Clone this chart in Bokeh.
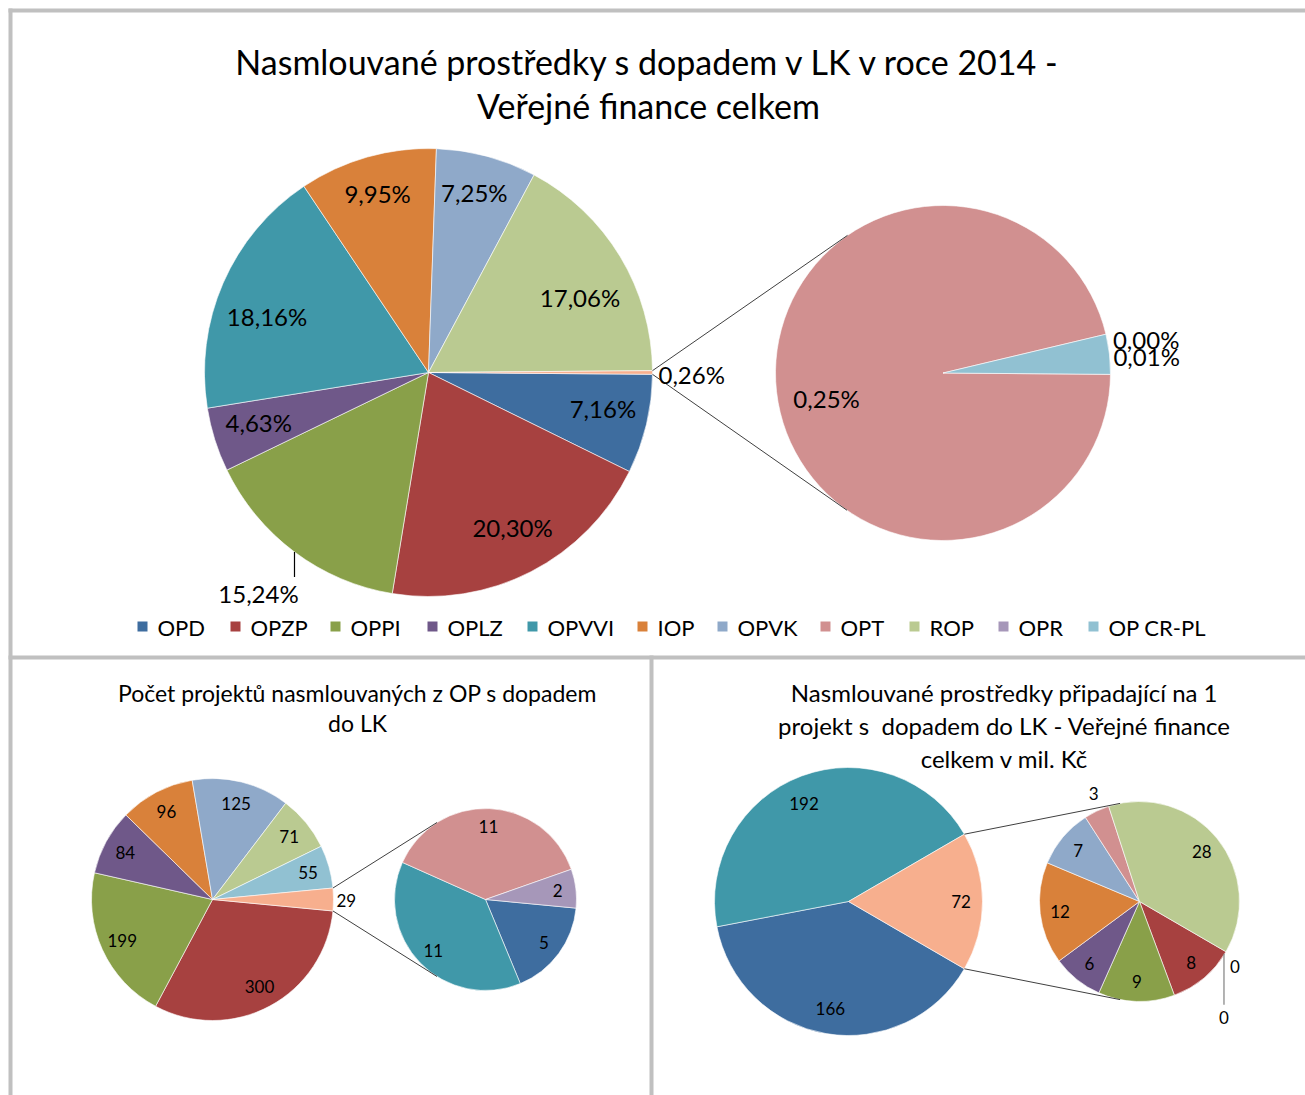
import math
from bokeh.plotting import figure
from bokeh.models import Range1d
from bokeh.embed import file_html
from bokeh.resources import INLINE
from bokeh.core.properties import value

# ---------------- data ----------------
programs = ["OPD", "OPZP", "OPPI", "OPLZ", "OPVVI", "IOP", "OPVK", "OPT", "ROP", "OPR", "OP CR-PL"]
program_colors = ["#3E6D9F", "#A74140", "#89A049", "#6F5889", "#4098A9", "#D9813A",
                  "#8FA9C9", "#D19090", "#BACA91", "#A697B9", "#91C1D2"]
other_color = "#F7AF8E"

# Chart 1: contracted funds share (%)
share_primary_names = ["OPD", "OPZP", "OPPI", "OPLZ", "OPVVI", "IOP", "OPVK", "ROP"]
share_primary_values = [7.16, 20.30, 15.24, 4.63, 18.16, 9.95, 7.25, 17.06]
share_other_value = 0.26
share_secondary_names = ["OPT", "OPR", "OP CR-PL"]
share_secondary_values = [0.25, 0.00, 0.01]

# Chart 2: number of projects
count_primary_names = ["OPZP", "OPPI", "OPLZ", "IOP", "OPVK", "ROP", "OP CR-PL"]
count_primary_values = [300, 199, 84, 96, 125, 71, 55]
count_other_value = 29
count_secondary_names = ["OPD", "OPVVI", "OPT", "OPR"]
count_secondary_values = [5, 11, 11, 2]

# Chart 3: funds per project (mil. Kč)
per_primary_names = ["OPD", "OPVVI"]
per_primary_values = [166, 192]
per_other_value = 72
per_secondary_names = ["OPZP", "OPPI", "OPLZ", "IOP", "OPVK", "OPT", "ROP", "OPR", "OP CR-PL"]
per_secondary_values = [8, 9, 6, 12, 7, 3, 28, 0, 0]

title_top = ["Nasmlouvané prostředky s dopadem v LK v roce 2014 -", "Veřejné finance celkem"]
title_left = ["Počet projektů nasmlouvaných z OP s dopadem", "do LK"]
title_right = ["Nasmlouvané prostředky připadající na 1",
               "projekt s \u00a0dopadem do LK - Veřejné finance", "celkem v mil. Kč"]

# ---------------- layout ----------------
FONT = "Lato"
W, H = 1305, 1095
COLOR = dict(zip(programs, program_colors))
COLOR["other"] = other_color

p = figure(width=W, height=H, x_range=Range1d(0, W), y_range=Range1d(-H, 0),
           output_backend="svg", toolbar_location=None, min_border=0,
           x_axis_type=None, y_axis_type=None)
p.grid.visible = False
p.outline_line_color = None
p.background_fill_color = "white"
p.border_fill_color = "white"


def txt(xs, ys, texts, size, align="center", color="#000000"):
    p.text(x=list(xs), y=[-y for y in ys], text=list(texts), text_font=value(FONT),
           text_font_size=f"{size}px", text_align=align, text_baseline="middle",
           text_color=color)


# frame borders
border = "#C0C0C0"
p.quad(left=[8, 8, 8, 649], right=[W, 12, W, 653],
       top=[-8, -8, -655, -655], bottom=[-12, -H, -659, -H],
       fill_color=border, line_color=None)


def pct(v):
    return f"{v:.2f}".replace(".", ",") + "%"


def num(v):
    return f"{v:.0f}"


def pie_of_pie(names, vals, other, snames, svals, c1, r1, c2, r2, fmt, fsize, frac1, frac2, special):
    total = sum(vals) + other
    h = other / total * math.pi
    wx, wy, wr, ws, we, wc = [], [], [], [], [], []
    lx, ly, lt, la = [], [], [], []
    leaders = []

    def slices(center, r, seq, tot, frac, tag):
        cx, cy = center
        a = -h
        for n, v in seq:
            ang = v / tot * 2 * math.pi
            s, e = a - ang, a
            mid = (s + e) / 2
            if ang > 0:
                wx.append(cx); wy.append(-cy); wr.append(r)
                ws.append(s); we.append(e); wc.append(COLOR[n])
            sp = special.get((tag, n), {})
            if "dx" in sp:
                ex = cx + r * math.cos(mid)
                ey = cy - r * math.sin(mid)
                lx.append(ex + sp["dx"]); ly.append(ey + sp["dy"])
                la.append(sp.get("align", "center"))
                if "leader" in sp:
                    (a0, b0), (a1, b1) = sp["leader"]
                    leaders.append(((ex + a0, ey + b0), (ex + a1, ey + b1), sp.get("lcolor", "#000000")))
            else:
                f = sp.get("frac", frac)
                m = mid + math.radians(sp.get("dang", 0))
                lx.append(cx + f * r * math.cos(m))
                ly.append(cy - f * r * math.sin(m))
                la.append("center")
            lt.append(fmt(v))
            a -= ang

    slices(c1, r1, list(zip(names, vals)) + [("other", other)], total, frac1, "p")
    slices(c2, r2, list(zip(snames, svals)), sum(svals), frac2, "s")

    p.wedge(x=wx, y=wy, radius=wr, start_angle=ws, end_angle=we,
            fill_color=wc, line_color="white", line_width=0.6)

    # connector lines: tangents from the "other" slice edges to the secondary pie
    cx1, cy1 = c1
    cx2, cy2 = c2
    for sign in (1, -1):
        px = cx1 + r1 * math.cos(sign * h)
        py = cy1 - r1 * math.sin(sign * h)
        dx, dy = px - cx2, -(py - cy2)
        d = math.hypot(dx, dy)
        beta = math.atan2(dy, dx)
        phi = math.acos(r2 / d)
        t = beta - phi if sign == 1 else beta + phi
        tx = cx2 + r2 * math.cos(t)
        ty = cy2 - r2 * math.sin(t)
        p.line([px, tx], [-py, -ty], line_color="#404040", line_width=1)

    for (x0, y0), (x1, y1), col in leaders:
        p.line([x0, x1], [-y0, -y1], line_color=col, line_width=1.2)

    for al in ("center", "left"):
        idx = [i for i in range(len(lt)) if la[i] == al]
        if idx:
            txt([lx[i] for i in idx], [ly[i] for i in idx], [lt[i] for i in idx], fsize, align=al)


# ---- chart 1 ----
txt([648, 648], [61, 105], title_top, 34)
pie_of_pie(share_primary_names, share_primary_values, share_other_value,
           share_secondary_names, share_secondary_values,
           (428, 372), 224, (942.5, 372.5), 167.5, pct, 24, 0.79, 0.72,
           {("p", "other"): dict(dx=6, dy=2, align="left"),
            ("p", "OPPI"): dict(dx=-36, dy=42, leader=((0, 0), (0, 25))),
            ("p", "OPD"): dict(frac=0.795, dang=1.7),
            ("p", "OPZP"): dict(frac=0.786, dang=1.3),
            ("p", "OPLZ"): dict(frac=0.79, dang=-1.1),
            ("p", "OPVVI"): dict(frac=0.763, dang=4.4),
            ("p", "IOP"): dict(frac=0.83),
            ("p", "OPVK"): dict(frac=0.83, dang=0.8),
            ("p", "ROP"): dict(frac=0.755, dang=-4.8),
            ("s", "OPT"): dict(dx=50, dy=7),
            ("s", "OPR"): dict(dx=7, dy=5, align="left"),
            ("s", "OP CR-PL"): dict(dx=4, dy=2, align="left")})

# legend
legend_x = [137, 230, 330, 427, 527, 637, 717, 820, 909, 998, 1088]
p.quad(left=legend_x, right=[x + 10 for x in legend_x], top=[-621] * 11, bottom=[-631] * 11,
       fill_color=program_colors, line_color=None)
txt([x + 20 for x in legend_x], [627] * 11, programs, 22, align="left")

# ---- chart 2 ----
txt([357, 357], [692, 722], title_left, 23)
pie_of_pie(count_primary_names, count_primary_values, count_other_value,
           count_secondary_names, count_secondary_values,
           (212, 899), 121, (485, 899), 91, num, 17, 0.82, 0.8,
           {("p", "other"): dict(dx=3, dy=1, align="left")})

# ---- chart 3 ----
txt([1004, 1004, 1004], [692, 725, 758], title_right, 24)
pie_of_pie(per_primary_names, per_primary_values, per_other_value,
           per_secondary_names, per_secondary_values,
           (848, 901), 134, (1139, 901), 100, num, 17, 0.81, 0.8,
           {("p", "OPVVI"): dict(frac=0.8, dang=4),
            ("p", "other"): dict(frac=0.84),
            ("s", "OPT"): dict(dx=-3, dy=-18),
            ("s", "OPR"): dict(dx=9, dy=15),
            ("s", "OP CR-PL"): dict(dx=-2, dy=66, leader=((-2, 2), (-2, 53)), lcolor="#808080")})

open("out.html", "w").write(file_html(p, INLINE))
